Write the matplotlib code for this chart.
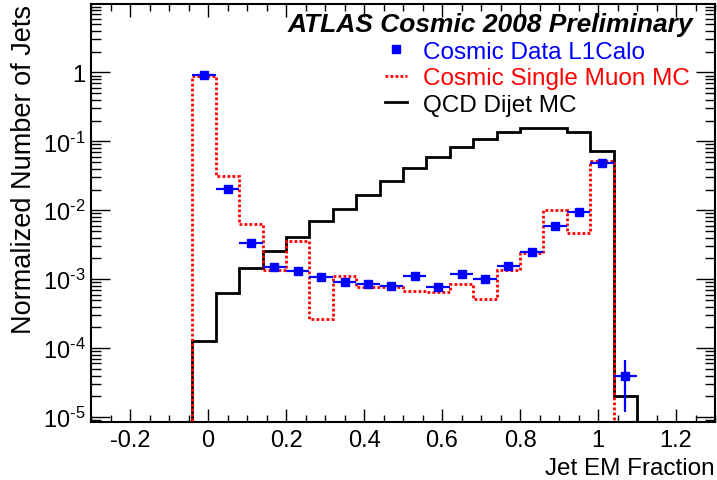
import matplotlib
matplotlib.use("Agg")
import matplotlib.pyplot as plt
import numpy as np
from matplotlib.lines import Line2D
from matplotlib.ticker import (MultipleLocator, LogLocator, FixedLocator,
                               FuncFormatter, NullFormatter)

plt.rcParams["font.family"] = ["Liberation Sans", "DejaVu Sans"]
plt.rcParams["mathtext.fontset"] = "custom"
plt.rcParams["mathtext.rm"] = "Liberation Sans"
plt.rcParams["mathtext.it"] = "Liberation Sans:italic"

# bin edges of the jet EM fraction histograms
bin_edges = [-0.04, 0.02, 0.08, 0.14, 0.20, 0.26, 0.32, 0.38, 0.44, 0.50,
             0.56, 0.62, 0.68, 0.74, 0.80, 0.86, 0.92, 0.98, 1.04, 1.10]

# cosmic data (L1Calo), one point per bin
data_vals = [0.91, 0.0201, 0.00336, 0.00152, 0.00132, 0.00107, 0.00092, 0.00084,
             0.00080, 0.00112, 0.00076, 0.00121, 0.00100, 0.00158, 0.00249,
             0.0059, 0.0095, 0.049, 4.0e-5]
data_errs = [0.01, 0.001, 0.0003, 0.0001, 0.0001, 0.0001, 0.00012, 0.0001,
             0.0001, 0.0001, 0.0001, 0.0001, 0.0001, 0.00012, 0.00015,
             0.0003, 0.0004, 0.001, 2.8e-5]

# cosmic single muon MC
muon_mc = [0.89, 0.0317, 0.0063, 0.00138, 0.00355, 0.000266, 0.00113, 0.00076,
           0.00076, 0.00068, 0.00065, 0.00085, 0.00051, 0.00138, 0.0024,
           0.0100, 0.0047, 0.052, 0.0]

# QCD dijet MC
qcd_mc = [1.25e-4, 0.00063, 0.00146, 0.0026, 0.0041, 0.0069, 0.0104, 0.0168,
          0.0269, 0.0407, 0.0598, 0.0818, 0.108, 0.135, 0.154, 0.154, 0.135,
          0.073, 2.0e-5]

y_major = [1e-5, 1e-4, 1e-3, 1e-2, 1e-1, 1]

edges = np.array(bin_edges)
centers = (edges[:-1] + edges[1:]) / 2
half_width = (edges[1:] - edges[:-1]) / 2
floor = 1e-8

fig = plt.figure(figsize=(7.17, 4.81), dpi=100)
ax = fig.add_axes([91 / 717, 1 - 423 / 481, 624 / 717, 418 / 481])

dots = (0, (1.0, 0.8))
ax.stairs(np.clip(qcd_mc, floor, None), edges, baseline=floor,
          color="black", lw=2, zorder=3)
ax.stairs(np.clip(muon_mc, floor, None), edges, baseline=floor,
          color="red", lw=2, linestyle=dots, zorder=4)
ax.errorbar(centers, data_vals, xerr=half_width, yerr=data_errs, fmt="s",
            color="blue", ms=6, elinewidth=1.6, capsize=0, zorder=5)

ax.set_yscale("log")
ax.set_xlim(-0.3, 1.3)
ax.set_ylim(8.5e-6, 9.8)

ax.xaxis.set_major_locator(MultipleLocator(0.2))
ax.xaxis.set_minor_locator(MultipleLocator(0.05))
ax.xaxis.set_major_formatter(FuncFormatter(lambda v, p: "%g" % round(v, 2)))
ax.yaxis.set_major_locator(FixedLocator(y_major))
ax.yaxis.set_minor_locator(LogLocator(base=10, subs=np.arange(2, 10), numticks=20))
ax.yaxis.set_minor_formatter(NullFormatter())


def ylab(v, p):
    e = int(round(np.log10(v)))
    if e == 0:
        return "1"
    return r"$\mathregular{10^{\text{-}%d}}$" % (-e)


ax.yaxis.set_major_formatter(FuncFormatter(ylab))

ax.tick_params(which="both", direction="in", top=True, right=True, width=1.0)
ax.tick_params(axis="x", which="major", length=9.5, labelsize=17, pad=5)
ax.tick_params(axis="x", which="minor", length=5)
ax.tick_params(axis="y", which="major", length=13.5, labelsize=17, pad=4)
ax.tick_params(axis="y", which="minor", length=7)
for s in ax.spines.values():
    s.set_linewidth(1.5)

ax.set_xlabel("Jet EM Fraction", fontsize=17.5, loc="right")
ax.xaxis.set_label_coords(1.0, -0.083)
ax.xaxis.label.set_va("top")
ax.set_ylabel("Normalized Number of Jets", fontsize=19.5, loc="top")
ax.yaxis.set_label_coords(-0.087, 1.0)

ax.text(0.965, 0.935, "ATLAS Cosmic 2008 Preliminary", transform=ax.transAxes,
        ha="right", va="baseline", fontsize=19, fontweight="bold", style="italic")

handles = [Line2D([], [], marker="s", ls="none", color="blue", ms=6),
           Line2D([], [], color="red", lw=2, ls=dots),
           Line2D([], [], color="black", lw=2)]
labels = ["Cosmic Data L1Calo", "Cosmic Single Muon MC", "QCD Dijet MC"]
ax.legend(handles, labels, loc="upper left", bbox_to_anchor=(0.471, 0.912),
          frameon=False, fontsize=17.5, labelcolor=["blue", "red", "black"],
          handlelength=0.9, handletextpad=0.65, labelspacing=0.18,
          borderpad=0, borderaxespad=0)

fig.savefig("out.png", dpi=100)
